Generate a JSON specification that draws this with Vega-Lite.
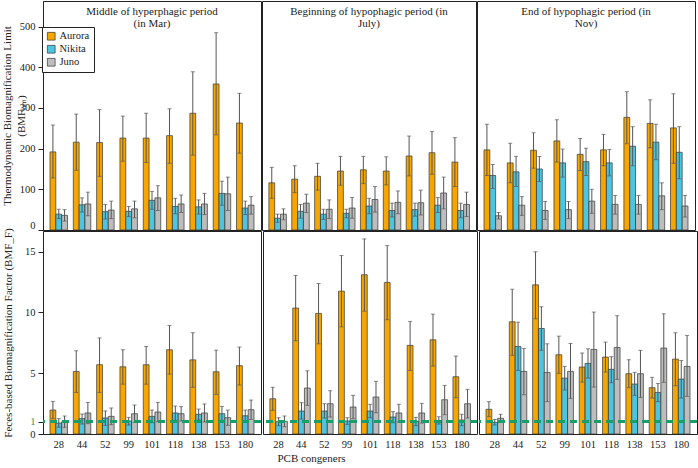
{
  "$schema": "https://vega.github.io/schema/vega-lite/v6.json",
  "padding": {"left": 0, "top": 0, "right": 0, "bottom": 0},
  "spacing": -11,
  "title": {"text": "PCB congeners", "orient": "bottom", "anchor": "middle", "dx": -38, "offset": 3, "font": "Liberation Serif", "fontSize": 11, "fontWeight": "normal", "color": "#222"},
  "config": {
    "view": {"stroke": "#222", "strokeWidth": 1},
    "font": "Liberation Serif",
    "title": {"font": "Liberation Serif", "fontSize": 11, "fontWeight": "normal", "color": "#222", "offset": -28, "anchor": "middle", "lineHeight": 12},
    "axis": {"labelFont": "Liberation Serif", "titleFont": "Liberation Serif", "labelFontSize": 10.5, "titleFontSize": 11, "titleFontWeight": "normal", "labelColor": "#222", "titleColor": "#222", "grid": false, "domainColor": "#222", "tickColor": "#222"}
  },
  "datasets": {
    "d": [
      {"m":"lim","p":"Mar","a":"Aurora","c":28,"v":192,"lo":128,"hi":258},
      {"m":"lim","p":"Mar","a":"Aurora","c":44,"v":216,"lo":147,"hi":285},
      {"m":"lim","p":"Mar","a":"Aurora","c":52,"v":215,"lo":132,"hi":296},
      {"m":"lim","p":"Mar","a":"Aurora","c":99,"v":226,"lo":169,"hi":280},
      {"m":"lim","p":"Mar","a":"Aurora","c":101,"v":226,"lo":166,"hi":287},
      {"m":"lim","p":"Mar","a":"Aurora","c":118,"v":232,"lo":164,"hi":298},
      {"m":"lim","p":"Mar","a":"Aurora","c":138,"v":287,"lo":184,"hi":389},
      {"m":"lim","p":"Mar","a":"Aurora","c":153,"v":359,"lo":234,"hi":485},
      {"m":"lim","p":"Mar","a":"Aurora","c":180,"v":263,"lo":189,"hi":336},
      {"m":"lim","p":"Mar","a":"Nikita","c":28,"v":39,"lo":28,"hi":51},
      {"m":"lim","p":"Mar","a":"Nikita","c":44,"v":62,"lo":44,"hi":79},
      {"m":"lim","p":"Mar","a":"Nikita","c":52,"v":45,"lo":27,"hi":63},
      {"m":"lim","p":"Mar","a":"Nikita","c":99,"v":46,"lo":33,"hi":58},
      {"m":"lim","p":"Mar","a":"Nikita","c":101,"v":73,"lo":51,"hi":95},
      {"m":"lim","p":"Mar","a":"Nikita","c":118,"v":58,"lo":40,"hi":78},
      {"m":"lim","p":"Mar","a":"Nikita","c":138,"v":57,"lo":39,"hi":74},
      {"m":"lim","p":"Mar","a":"Nikita","c":153,"v":90,"lo":61,"hi":120},
      {"m":"lim","p":"Mar","a":"Nikita","c":180,"v":54,"lo":38,"hi":71},
      {"m":"lim","p":"Mar","a":"Juno","c":28,"v":36,"lo":22,"hi":50},
      {"m":"lim","p":"Mar","a":"Juno","c":44,"v":64,"lo":35,"hi":93},
      {"m":"lim","p":"Mar","a":"Juno","c":52,"v":49,"lo":28,"hi":71},
      {"m":"lim","p":"Mar","a":"Juno","c":99,"v":52,"lo":30,"hi":71},
      {"m":"lim","p":"Mar","a":"Juno","c":101,"v":79,"lo":48,"hi":109},
      {"m":"lim","p":"Mar","a":"Juno","c":118,"v":64,"lo":43,"hi":86},
      {"m":"lim","p":"Mar","a":"Juno","c":138,"v":64,"lo":38,"hi":90},
      {"m":"lim","p":"Mar","a":"Juno","c":153,"v":89,"lo":48,"hi":130},
      {"m":"lim","p":"Mar","a":"Juno","c":180,"v":61,"lo":39,"hi":82},
      {"m":"lim","p":"Jul","a":"Aurora","c":28,"v":116,"lo":78,"hi":154},
      {"m":"lim","p":"Jul","a":"Aurora","c":44,"v":125,"lo":92,"hi":158},
      {"m":"lim","p":"Jul","a":"Aurora","c":52,"v":132,"lo":98,"hi":164},
      {"m":"lim","p":"Jul","a":"Aurora","c":99,"v":145,"lo":110,"hi":181},
      {"m":"lim","p":"Jul","a":"Aurora","c":101,"v":148,"lo":114,"hi":181},
      {"m":"lim","p":"Jul","a":"Aurora","c":118,"v":145,"lo":111,"hi":180},
      {"m":"lim","p":"Jul","a":"Aurora","c":138,"v":182,"lo":133,"hi":231},
      {"m":"lim","p":"Jul","a":"Aurora","c":153,"v":190,"lo":137,"hi":242},
      {"m":"lim","p":"Jul","a":"Aurora","c":180,"v":167,"lo":107,"hi":227},
      {"m":"lim","p":"Jul","a":"Nikita","c":28,"v":29,"lo":19,"hi":39},
      {"m":"lim","p":"Jul","a":"Nikita","c":44,"v":46,"lo":29,"hi":63},
      {"m":"lim","p":"Jul","a":"Nikita","c":52,"v":39,"lo":26,"hi":51},
      {"m":"lim","p":"Jul","a":"Nikita","c":99,"v":41,"lo":30,"hi":51},
      {"m":"lim","p":"Jul","a":"Nikita","c":101,"v":59,"lo":40,"hi":78},
      {"m":"lim","p":"Jul","a":"Nikita","c":118,"v":48,"lo":32,"hi":66},
      {"m":"lim","p":"Jul","a":"Nikita","c":138,"v":50,"lo":34,"hi":66},
      {"m":"lim","p":"Jul","a":"Nikita","c":153,"v":61,"lo":43,"hi":80},
      {"m":"lim","p":"Jul","a":"Nikita","c":180,"v":48,"lo":30,"hi":66},
      {"m":"lim","p":"Jul","a":"Juno","c":28,"v":39,"lo":25,"hi":52},
      {"m":"lim","p":"Jul","a":"Juno","c":44,"v":66,"lo":43,"hi":88},
      {"m":"lim","p":"Jul","a":"Juno","c":52,"v":51,"lo":28,"hi":74},
      {"m":"lim","p":"Jul","a":"Juno","c":99,"v":54,"lo":29,"hi":80},
      {"m":"lim","p":"Jul","a":"Juno","c":101,"v":75,"lo":44,"hi":107},
      {"m":"lim","p":"Jul","a":"Juno","c":118,"v":68,"lo":40,"hi":96},
      {"m":"lim","p":"Jul","a":"Juno","c":138,"v":67,"lo":37,"hi":98},
      {"m":"lim","p":"Jul","a":"Juno","c":153,"v":91,"lo":52,"hi":130},
      {"m":"lim","p":"Jul","a":"Juno","c":180,"v":63,"lo":33,"hi":93},
      {"m":"lim","p":"Nov","a":"Aurora","c":28,"v":197,"lo":134,"hi":260},
      {"m":"lim","p":"Nov","a":"Aurora","c":44,"v":165,"lo":116,"hi":213},
      {"m":"lim","p":"Nov","a":"Aurora","c":52,"v":196,"lo":152,"hi":239},
      {"m":"lim","p":"Nov","a":"Aurora","c":99,"v":219,"lo":167,"hi":271},
      {"m":"lim","p":"Nov","a":"Aurora","c":101,"v":186,"lo":146,"hi":225},
      {"m":"lim","p":"Nov","a":"Aurora","c":118,"v":197,"lo":158,"hi":235},
      {"m":"lim","p":"Nov","a":"Aurora","c":138,"v":277,"lo":212,"hi":340},
      {"m":"lim","p":"Nov","a":"Aurora","c":153,"v":262,"lo":202,"hi":320},
      {"m":"lim","p":"Nov","a":"Aurora","c":180,"v":251,"lo":164,"hi":335},
      {"m":"lim","p":"Nov","a":"Nikita","c":28,"v":134,"lo":102,"hi":161},
      {"m":"lim","p":"Nov","a":"Nikita","c":44,"v":143,"lo":107,"hi":181},
      {"m":"lim","p":"Nov","a":"Nikita","c":52,"v":150,"lo":119,"hi":181},
      {"m":"lim","p":"Nov","a":"Nikita","c":99,"v":165,"lo":130,"hi":199},
      {"m":"lim","p":"Nov","a":"Nikita","c":101,"v":168,"lo":134,"hi":201},
      {"m":"lim","p":"Nov","a":"Nikita","c":118,"v":165,"lo":133,"hi":198},
      {"m":"lim","p":"Nov","a":"Nikita","c":138,"v":206,"lo":158,"hi":254},
      {"m":"lim","p":"Nov","a":"Nikita","c":153,"v":216,"lo":173,"hi":260},
      {"m":"lim","p":"Nov","a":"Nikita","c":180,"v":191,"lo":126,"hi":254},
      {"m":"lim","p":"Nov","a":"Juno","c":28,"v":35,"lo":27,"hi":43},
      {"m":"lim","p":"Nov","a":"Juno","c":44,"v":61,"lo":36,"hi":82},
      {"m":"lim","p":"Nov","a":"Juno","c":52,"v":48,"lo":26,"hi":70},
      {"m":"lim","p":"Nov","a":"Juno","c":99,"v":50,"lo":28,"hi":70},
      {"m":"lim","p":"Nov","a":"Juno","c":101,"v":71,"lo":41,"hi":100},
      {"m":"lim","p":"Nov","a":"Juno","c":118,"v":63,"lo":39,"hi":85},
      {"m":"lim","p":"Nov","a":"Juno","c":138,"v":63,"lo":39,"hi":85},
      {"m":"lim","p":"Nov","a":"Juno","c":153,"v":84,"lo":50,"hi":116},
      {"m":"lim","p":"Nov","a":"Juno","c":180,"v":59,"lo":32,"hi":85},
      {"m":"F","p":"Mar","a":"Aurora","c":28,"v":1.97,"lo":1.26,"hi":2.68},
      {"m":"F","p":"Mar","a":"Aurora","c":44,"v":5.15,"lo":3.42,"hi":6.85},
      {"m":"F","p":"Mar","a":"Aurora","c":52,"v":5.7,"lo":3.42,"hi":7.9},
      {"m":"F","p":"Mar","a":"Aurora","c":99,"v":5.53,"lo":4.1,"hi":6.93},
      {"m":"F","p":"Mar","a":"Aurora","c":101,"v":5.7,"lo":4.1,"hi":7.2},
      {"m":"F","p":"Mar","a":"Aurora","c":118,"v":6.93,"lo":4.93,"hi":8.93},
      {"m":"F","p":"Mar","a":"Aurora","c":138,"v":6.1,"lo":3.84,"hi":8.33},
      {"m":"F","p":"Mar","a":"Aurora","c":153,"v":5.12,"lo":3.26,"hi":6.9},
      {"m":"F","p":"Mar","a":"Aurora","c":180,"v":5.62,"lo":4.03,"hi":7.15},
      {"m":"F","p":"Mar","a":"Nikita","c":28,"v":0.9,"lo":0.55,"hi":1.26},
      {"m":"F","p":"Mar","a":"Nikita","c":44,"v":1.26,"lo":0.82,"hi":1.64},
      {"m":"F","p":"Mar","a":"Nikita","c":52,"v":1.32,"lo":0.71,"hi":1.9},
      {"m":"F","p":"Mar","a":"Nikita","c":99,"v":1.07,"lo":0.74,"hi":1.37},
      {"m":"F","p":"Mar","a":"Nikita","c":101,"v":1.45,"lo":0.93,"hi":1.97},
      {"m":"F","p":"Mar","a":"Nikita","c":118,"v":1.73,"lo":1.12,"hi":2.3},
      {"m":"F","p":"Mar","a":"Nikita","c":138,"v":1.62,"lo":1.15,"hi":2.05},
      {"m":"F","p":"Mar","a":"Nikita","c":153,"v":1.67,"lo":1.07,"hi":2.27},
      {"m":"F","p":"Mar","a":"Nikita","c":180,"v":1.5,"lo":1.01,"hi":1.97},
      {"m":"F","p":"Mar","a":"Juno","c":28,"v":1.01,"lo":0.55,"hi":1.48},
      {"m":"F","p":"Mar","a":"Juno","c":44,"v":1.73,"lo":0.85,"hi":2.6},
      {"m":"F","p":"Mar","a":"Juno","c":52,"v":1.45,"lo":0.77,"hi":2.14},
      {"m":"F","p":"Mar","a":"Juno","c":99,"v":1.67,"lo":0.96,"hi":2.38},
      {"m":"F","p":"Mar","a":"Juno","c":101,"v":1.81,"lo":1.01,"hi":2.6},
      {"m":"F","p":"Mar","a":"Juno","c":118,"v":1.67,"lo":1.07,"hi":2.25},
      {"m":"F","p":"Mar","a":"Juno","c":138,"v":1.73,"lo":0.99,"hi":2.47},
      {"m":"F","p":"Mar","a":"Juno","c":153,"v":1.34,"lo":0.71,"hi":1.97},
      {"m":"F","p":"Mar","a":"Juno","c":180,"v":2.0,"lo":1.2,"hi":2.79},
      {"m":"F","p":"Jul","a":"Aurora","c":28,"v":2.9,"lo":1.95,"hi":3.84},
      {"m":"F","p":"Jul","a":"Aurora","c":44,"v":10.36,"lo":7.67,"hi":13.04},
      {"m":"F","p":"Jul","a":"Aurora","c":52,"v":9.92,"lo":7.42,"hi":12.38},
      {"m":"F","p":"Jul","a":"Aurora","c":99,"v":11.75,"lo":8.82,"hi":14.68},
      {"m":"F","p":"Jul","a":"Aurora","c":101,"v":13.1,"lo":10.1,"hi":16.05},
      {"m":"F","p":"Jul","a":"Aurora","c":118,"v":12.47,"lo":9.4,"hi":15.5},
      {"m":"F","p":"Jul","a":"Aurora","c":138,"v":7.29,"lo":5.23,"hi":9.26},
      {"m":"F","p":"Jul","a":"Aurora","c":153,"v":7.75,"lo":5.59,"hi":9.86},
      {"m":"F","p":"Jul","a":"Aurora","c":180,"v":4.71,"lo":2.99,"hi":6.41},
      {"m":"F","p":"Jul","a":"Nikita","c":28,"v":1.01,"lo":0.68,"hi":1.34},
      {"m":"F","p":"Jul","a":"Nikita","c":44,"v":1.89,"lo":1.23,"hi":2.58},
      {"m":"F","p":"Jul","a":"Nikita","c":52,"v":1.89,"lo":1.32,"hi":2.49},
      {"m":"F","p":"Jul","a":"Nikita","c":99,"v":1.07,"lo":0.79,"hi":1.34},
      {"m":"F","p":"Jul","a":"Nikita","c":101,"v":1.89,"lo":1.34,"hi":2.44},
      {"m":"F","p":"Jul","a":"Nikita","c":118,"v":1.4,"lo":0.93,"hi":1.84},
      {"m":"F","p":"Jul","a":"Nikita","c":138,"v":1.04,"lo":0.68,"hi":1.37},
      {"m":"F","p":"Jul","a":"Nikita","c":153,"v":1.12,"lo":0.82,"hi":1.42},
      {"m":"F","p":"Jul","a":"Nikita","c":180,"v":1.15,"lo":0.68,"hi":1.62},
      {"m":"F","p":"Jul","a":"Juno","c":28,"v":1.04,"lo":0.6,"hi":1.48},
      {"m":"F","p":"Jul","a":"Juno","c":44,"v":3.78,"lo":2.36,"hi":5.2},
      {"m":"F","p":"Jul","a":"Juno","c":52,"v":2.49,"lo":1.4,"hi":3.56},
      {"m":"F","p":"Jul","a":"Juno","c":99,"v":2.22,"lo":1.26,"hi":3.18},
      {"m":"F","p":"Jul","a":"Juno","c":101,"v":3.04,"lo":1.75,"hi":4.33},
      {"m":"F","p":"Jul","a":"Juno","c":118,"v":1.73,"lo":0.99,"hi":2.44},
      {"m":"F","p":"Jul","a":"Juno","c":138,"v":1.73,"lo":0.9,"hi":2.52},
      {"m":"F","p":"Jul","a":"Juno","c":153,"v":2.82,"lo":1.59,"hi":4.0},
      {"m":"F","p":"Jul","a":"Juno","c":180,"v":2.49,"lo":1.32,"hi":3.67},
      {"m":"F","p":"Nov","a":"Aurora","c":28,"v":2.03,"lo":1.42,"hi":2.66},
      {"m":"F","p":"Nov","a":"Aurora","c":44,"v":9.23,"lo":6.47,"hi":11.9},
      {"m":"F","p":"Nov","a":"Aurora","c":52,"v":12.27,"lo":9.48,"hi":14.99},
      {"m":"F","p":"Nov","a":"Aurora","c":99,"v":6.52,"lo":4.99,"hi":8.05},
      {"m":"F","p":"Nov","a":"Aurora","c":101,"v":5.51,"lo":4.27,"hi":6.66},
      {"m":"F","p":"Nov","a":"Aurora","c":118,"v":6.33,"lo":5.1,"hi":7.56},
      {"m":"F","p":"Nov","a":"Aurora","c":138,"v":4.96,"lo":3.81,"hi":6.11},
      {"m":"F","p":"Nov","a":"Aurora","c":153,"v":3.81,"lo":2.96,"hi":4.66},
      {"m":"F","p":"Nov","a":"Aurora","c":180,"v":6.16,"lo":3.97,"hi":8.33},
      {"m":"F","p":"Nov","a":"Nikita","c":28,"v":0.96,"lo":0.74,"hi":1.2},
      {"m":"F","p":"Nov","a":"Nikita","c":44,"v":7.2,"lo":5.23,"hi":9.2},
      {"m":"F","p":"Nov","a":"Nikita","c":52,"v":8.68,"lo":6.9,"hi":10.47},
      {"m":"F","p":"Nov","a":"Nikita","c":99,"v":4.6,"lo":3.62,"hi":5.56},
      {"m":"F","p":"Nov","a":"Nikita","c":101,"v":5.81,"lo":4.6,"hi":7.01},
      {"m":"F","p":"Nov","a":"Nikita","c":118,"v":5.32,"lo":4.22,"hi":6.36},
      {"m":"F","p":"Nov","a":"Nikita","c":138,"v":4.11,"lo":3.18,"hi":5.07},
      {"m":"F","p":"Nov","a":"Nikita","c":153,"v":3.42,"lo":2.66,"hi":4.16},
      {"m":"F","p":"Nov","a":"Nikita","c":180,"v":4.52,"lo":2.96,"hi":6.05},
      {"m":"F","p":"Nov","a":"Juno","c":28,"v":1.29,"lo":0.96,"hi":1.62},
      {"m":"F","p":"Nov","a":"Juno","c":44,"v":5.15,"lo":3.23,"hi":7.04},
      {"m":"F","p":"Nov","a":"Juno","c":52,"v":5.07,"lo":2.66,"hi":7.42},
      {"m":"F","p":"Nov","a":"Juno","c":99,"v":5.15,"lo":2.93,"hi":7.45},
      {"m":"F","p":"Nov","a":"Juno","c":101,"v":6.96,"lo":3.86,"hi":10.03},
      {"m":"F","p":"Nov","a":"Juno","c":118,"v":7.12,"lo":4.49,"hi":9.73},
      {"m":"F","p":"Nov","a":"Juno","c":138,"v":4.96,"lo":3.01,"hi":6.88},
      {"m":"F","p":"Nov","a":"Juno","c":153,"v":7.07,"lo":4.25,"hi":9.89},
      {"m":"F","p":"Nov","a":"Juno","c":180,"v":5.56,"lo":3.1,"hi":8.11}
    ]
  },
  "data": {"name": "d"},
  "vconcat": [
    {
      "spacing": -3,
      "hconcat": [
        {
          "width": 218, "height": 229,
          "title": {"text": ["Middle of hyperphagic period", "(in Mar)"]},
          "transform": [{"filter": "datum.m == 'lim' && datum.p == 'Mar'"}],
          "layer": [
            {"mark": {"type": "bar", "stroke": "#333", "strokeWidth": 0.7},
             "encoding": {
               "x": {"field": "c", "type": "ordinal", "scale": {"paddingInner": 0.25, "paddingOuter": 0.3}, "axis": null},
               "xOffset": {"field": "a", "type": "nominal", "sort": ["Aurora", "Nikita", "Juno"]},
               "y": {"field": "v", "type": "quantitative", "scale": {"domain": [0, 563], "nice": false},
                 "axis": {"values": [0, 100, 200, 300, 400, 500], "title": ["Thermodynamic Biomagnification Limit", "(BMFₗᵢₘ)"], "titleX": -42, "titleBaseline": "top", "titleLineHeight": 14, "tickSize": 5, "labelPadding": 3, "labelFlush": true, "labelFlushOffset": 0}},
               "color": {"field": "a", "type": "nominal", "sort": ["Aurora", "Nikita", "Juno"],
                 "scale": {"domain": ["Aurora", "Nikita", "Juno"], "range": ["#F7A600", "#4EC4DF", "#BDBDBD"]},
                 "legend": {"title": null, "orient": "none", "legendX": -1, "legendY": 26, "strokeColor": "#222", "fillColor": "white", "padding": 4, "symbolType": "square", "symbolSize": 60, "symbolStrokeColor": "#333", "symbolStrokeWidth": 0.7, "labelFont": "Liberation Serif", "labelFontSize": 10.5, "labelColor": "#222", "rowPadding": 1, "labelOffset": 3}}}},
            {"mark": {"type": "rule", "color": "#555", "strokeWidth": 1},
             "encoding": {"x": {"field": "c", "type": "ordinal", "axis": null}, "xOffset": {"field": "a", "type": "nominal", "sort": ["Aurora", "Nikita", "Juno"]},
               "y": {"field": "lo", "type": "quantitative", "axis": {"values": [0, 100, 200, 300, 400, 500], "title": ["Thermodynamic Biomagnification Limit", "(BMFₗᵢₘ)"], "titleX": -42, "titleBaseline": "top", "titleLineHeight": 14, "tickSize": 5, "labelPadding": 3, "labelFlush": true, "labelFlushOffset": 0}}, "y2": {"field": "hi"}}},
            {"mark": {"type": "tick", "color": "#555", "thickness": 1, "size": 4, "orient": "horizontal"},
             "encoding": {"x": {"field": "c", "type": "ordinal", "axis": null}, "xOffset": {"field": "a", "type": "nominal", "sort": ["Aurora", "Nikita", "Juno"]},
               "y": {"field": "hi", "type": "quantitative", "axis": {"values": [0, 100, 200, 300, 400, 500], "title": ["Thermodynamic Biomagnification Limit", "(BMFₗᵢₘ)"], "titleX": -42, "titleBaseline": "top", "titleLineHeight": 14, "tickSize": 5, "labelPadding": 3, "labelFlush": true, "labelFlushOffset": 0}}}},
            {"mark": {"type": "tick", "color": "#555", "thickness": 1, "size": 4, "orient": "horizontal"},
             "encoding": {"x": {"field": "c", "type": "ordinal", "axis": null}, "xOffset": {"field": "a", "type": "nominal", "sort": ["Aurora", "Nikita", "Juno"]},
               "y": {"field": "lo", "type": "quantitative", "axis": {"values": [0, 100, 200, 300, 400, 500], "title": ["Thermodynamic Biomagnification Limit", "(BMFₗᵢₘ)"], "titleX": -42, "titleBaseline": "top", "titleLineHeight": 14, "tickSize": 5, "labelPadding": 3, "labelFlush": true, "labelFlushOffset": 0}}}}
          ]
        },
        {
          "width": 214, "height": 229,
          "title": {"text": ["Beginning of hypophagic period (in", "July)"]},
          "transform": [{"filter": "datum.m == 'lim' && datum.p == 'Jul'"}],
          "layer": [
            {"mark": {"type": "bar", "stroke": "#333", "strokeWidth": 0.7},
             "encoding": {
               "x": {"field": "c", "type": "ordinal", "scale": {"paddingInner": 0.25, "paddingOuter": 0.3}, "axis": null},
               "xOffset": {"field": "a", "type": "nominal", "sort": ["Aurora", "Nikita", "Juno"]},
               "y": {"field": "v", "type": "quantitative", "scale": {"domain": [0, 563], "nice": false}, "axis": null},
               "color": {"field": "a", "type": "nominal", "sort": ["Aurora", "Nikita", "Juno"], "scale": {"domain": ["Aurora", "Nikita", "Juno"], "range": ["#F7A600", "#4EC4DF", "#BDBDBD"]}}}},
            {"mark": {"type": "rule", "color": "#555", "strokeWidth": 1},
             "encoding": {"x": {"field": "c", "type": "ordinal", "axis": null}, "xOffset": {"field": "a", "type": "nominal", "sort": ["Aurora", "Nikita", "Juno"]}, "y": {"field": "lo", "type": "quantitative", "axis": null}, "y2": {"field": "hi"}}},
            {"mark": {"type": "tick", "color": "#555", "thickness": 1, "size": 4, "orient": "horizontal"},
             "encoding": {"x": {"field": "c", "type": "ordinal", "axis": null}, "xOffset": {"field": "a", "type": "nominal", "sort": ["Aurora", "Nikita", "Juno"]}, "y": {"field": "hi", "type": "quantitative", "axis": null}}},
            {"mark": {"type": "tick", "color": "#555", "thickness": 1, "size": 4, "orient": "horizontal"},
             "encoding": {"x": {"field": "c", "type": "ordinal", "axis": null}, "xOffset": {"field": "a", "type": "nominal", "sort": ["Aurora", "Nikita", "Juno"]}, "y": {"field": "lo", "type": "quantitative", "axis": null}}}
          ]
        },
        {
          "width": 218, "height": 229,
          "title": {"text": ["End of hypophagic period (in", "Nov)"]},
          "transform": [{"filter": "datum.m == 'lim' && datum.p == 'Nov'"}],
          "layer": [
            {"mark": {"type": "bar", "stroke": "#333", "strokeWidth": 0.7},
             "encoding": {
               "x": {"field": "c", "type": "ordinal", "scale": {"paddingInner": 0.25, "paddingOuter": 0.3}, "axis": null},
               "xOffset": {"field": "a", "type": "nominal", "sort": ["Aurora", "Nikita", "Juno"]},
               "y": {"field": "v", "type": "quantitative", "scale": {"domain": [0, 563], "nice": false}, "axis": null},
               "color": {"field": "a", "type": "nominal", "sort": ["Aurora", "Nikita", "Juno"], "scale": {"domain": ["Aurora", "Nikita", "Juno"], "range": ["#F7A600", "#4EC4DF", "#BDBDBD"]}}}},
            {"mark": {"type": "rule", "color": "#555", "strokeWidth": 1},
             "encoding": {"x": {"field": "c", "type": "ordinal", "axis": null}, "xOffset": {"field": "a", "type": "nominal", "sort": ["Aurora", "Nikita", "Juno"]}, "y": {"field": "lo", "type": "quantitative", "axis": null}, "y2": {"field": "hi"}}},
            {"mark": {"type": "tick", "color": "#555", "thickness": 1, "size": 4, "orient": "horizontal"},
             "encoding": {"x": {"field": "c", "type": "ordinal", "axis": null}, "xOffset": {"field": "a", "type": "nominal", "sort": ["Aurora", "Nikita", "Juno"]}, "y": {"field": "hi", "type": "quantitative", "axis": null}}},
            {"mark": {"type": "tick", "color": "#555", "thickness": 1, "size": 4, "orient": "horizontal"},
             "encoding": {"x": {"field": "c", "type": "ordinal", "axis": null}, "xOffset": {"field": "a", "type": "nominal", "sort": ["Aurora", "Nikita", "Juno"]}, "y": {"field": "lo", "type": "quantitative", "axis": null}}}
          ]
        }
      ]
    },
    {
      "spacing": -3,
      "hconcat": [
        {
          "width": 218, "height": 203,
          "transform": [{"filter": "datum.m == 'F' && datum.p == 'Mar'"}],
          "layer": [
            {"mark": {"type": "bar", "stroke": "#333", "strokeWidth": 0.7},
             "encoding": {
               "x": {"field": "c", "type": "ordinal", "scale": {"paddingInner": 0.25, "paddingOuter": 0.3}, "axis": {"title": null, "ticks": false, "domain": false, "labelAngle": 0, "labelPadding": 5}},
               "xOffset": {"field": "a", "type": "nominal", "sort": ["Aurora", "Nikita", "Juno"]},
               "y": {"field": "v", "type": "quantitative", "scale": {"domain": [0, 16.7], "nice": false},
                 "axis": {"values": [0, 1, 5, 10, 15], "title": "Feces-based Biomagnification Factor (BMF_F)", "titleX": -41, "titleBaseline": "top", "tickSize": 5, "labelPadding": 3, "labelColor": {"condition": {"test": "datum.value == 1", "value": "#1a9e6a"}, "value": "#222"}}},
               "color": {"field": "a", "type": "nominal", "sort": ["Aurora", "Nikita", "Juno"], "scale": {"domain": ["Aurora", "Nikita", "Juno"], "range": ["#F7A600", "#4EC4DF", "#BDBDBD"]}}}},
            {"mark": {"type": "rule", "color": "#555", "strokeWidth": 1},
             "encoding": {"x": {"field": "c", "type": "ordinal", "axis": {"title": null, "ticks": false, "domain": false, "labelAngle": 0, "labelPadding": 5}}, "xOffset": {"field": "a", "type": "nominal", "sort": ["Aurora", "Nikita", "Juno"]},
               "y": {"field": "lo", "type": "quantitative", "axis": {"values": [0, 1, 5, 10, 15], "title": "Feces-based Biomagnification Factor (BMF_F)", "titleX": -41, "titleBaseline": "top", "tickSize": 5, "labelPadding": 3, "labelColor": {"condition": {"test": "datum.value == 1", "value": "#1a9e6a"}, "value": "#222"}}}, "y2": {"field": "hi"}}},
            {"mark": {"type": "tick", "color": "#555", "thickness": 1, "size": 4, "orient": "horizontal"},
             "encoding": {"x": {"field": "c", "type": "ordinal", "axis": {"title": null, "ticks": false, "domain": false, "labelAngle": 0, "labelPadding": 5}}, "xOffset": {"field": "a", "type": "nominal", "sort": ["Aurora", "Nikita", "Juno"]},
               "y": {"field": "hi", "type": "quantitative", "axis": {"values": [0, 1, 5, 10, 15], "title": "Feces-based Biomagnification Factor (BMF_F)", "titleX": -41, "titleBaseline": "top", "tickSize": 5, "labelPadding": 3, "labelColor": {"condition": {"test": "datum.value == 1", "value": "#1a9e6a"}, "value": "#222"}}}}},
            {"mark": {"type": "tick", "color": "#555", "thickness": 1, "size": 4, "orient": "horizontal"},
             "encoding": {"x": {"field": "c", "type": "ordinal", "axis": {"title": null, "ticks": false, "domain": false, "labelAngle": 0, "labelPadding": 5}}, "xOffset": {"field": "a", "type": "nominal", "sort": ["Aurora", "Nikita", "Juno"]},
               "y": {"field": "lo", "type": "quantitative", "axis": {"values": [0, 1, 5, 10, 15], "title": "Feces-based Biomagnification Factor (BMF_F)", "titleX": -41, "titleBaseline": "top", "tickSize": 5, "labelPadding": 3, "labelColor": {"condition": {"test": "datum.value == 1", "value": "#1a9e6a"}, "value": "#222"}}}}},
            {"mark": {"type": "rule", "color": "#1a9e6a", "strokeWidth": 2, "strokeDash": [7, 5]},
             "encoding": {"y": {"datum": 1, "type": "quantitative", "axis": {"values": [0, 1, 5, 10, 15], "title": "Feces-based Biomagnification Factor (BMF_F)", "titleX": -41, "titleBaseline": "top", "tickSize": 5, "labelPadding": 3, "labelColor": {"condition": {"test": "datum.value == 1", "value": "#1a9e6a"}, "value": "#222"}}}}}
          ]
        },
        {
          "width": 214, "height": 203,
          "transform": [{"filter": "datum.m == 'F' && datum.p == 'Jul'"}],
          "layer": [
            {"mark": {"type": "bar", "stroke": "#333", "strokeWidth": 0.7},
             "encoding": {
               "x": {"field": "c", "type": "ordinal", "scale": {"paddingInner": 0.25, "paddingOuter": 0.3}, "axis": {"title": null, "ticks": false, "domain": false, "labelAngle": 0, "labelPadding": 5}},
               "xOffset": {"field": "a", "type": "nominal", "sort": ["Aurora", "Nikita", "Juno"]},
               "y": {"field": "v", "type": "quantitative", "scale": {"domain": [0, 16.7], "nice": false}, "axis": null},
               "color": {"field": "a", "type": "nominal", "sort": ["Aurora", "Nikita", "Juno"], "scale": {"domain": ["Aurora", "Nikita", "Juno"], "range": ["#F7A600", "#4EC4DF", "#BDBDBD"]}}}},
            {"mark": {"type": "rule", "color": "#555", "strokeWidth": 1},
             "encoding": {"x": {"field": "c", "type": "ordinal", "axis": {"title": null, "ticks": false, "domain": false, "labelAngle": 0, "labelPadding": 5}}, "xOffset": {"field": "a", "type": "nominal", "sort": ["Aurora", "Nikita", "Juno"]}, "y": {"field": "lo", "type": "quantitative", "axis": null}, "y2": {"field": "hi"}}},
            {"mark": {"type": "tick", "color": "#555", "thickness": 1, "size": 4, "orient": "horizontal"},
             "encoding": {"x": {"field": "c", "type": "ordinal", "axis": {"title": null, "ticks": false, "domain": false, "labelAngle": 0, "labelPadding": 5}}, "xOffset": {"field": "a", "type": "nominal", "sort": ["Aurora", "Nikita", "Juno"]}, "y": {"field": "hi", "type": "quantitative", "axis": null}}},
            {"mark": {"type": "tick", "color": "#555", "thickness": 1, "size": 4, "orient": "horizontal"},
             "encoding": {"x": {"field": "c", "type": "ordinal", "axis": {"title": null, "ticks": false, "domain": false, "labelAngle": 0, "labelPadding": 5}}, "xOffset": {"field": "a", "type": "nominal", "sort": ["Aurora", "Nikita", "Juno"]}, "y": {"field": "lo", "type": "quantitative", "axis": null}}},
            {"mark": {"type": "rule", "color": "#1a9e6a", "strokeWidth": 2, "strokeDash": [7, 5]},
             "encoding": {"y": {"datum": 1, "type": "quantitative", "axis": null}}}
          ]
        },
        {
          "width": 218, "height": 203,
          "transform": [{"filter": "datum.m == 'F' && datum.p == 'Nov'"}],
          "layer": [
            {"mark": {"type": "bar", "stroke": "#333", "strokeWidth": 0.7},
             "encoding": {
               "x": {"field": "c", "type": "ordinal", "scale": {"paddingInner": 0.25, "paddingOuter": 0.3}, "axis": {"title": null, "ticks": false, "domain": false, "labelAngle": 0, "labelPadding": 5}},
               "xOffset": {"field": "a", "type": "nominal", "sort": ["Aurora", "Nikita", "Juno"]},
               "y": {"field": "v", "type": "quantitative", "scale": {"domain": [0, 16.7], "nice": false}, "axis": null},
               "color": {"field": "a", "type": "nominal", "sort": ["Aurora", "Nikita", "Juno"], "scale": {"domain": ["Aurora", "Nikita", "Juno"], "range": ["#F7A600", "#4EC4DF", "#BDBDBD"]}}}},
            {"mark": {"type": "rule", "color": "#555", "strokeWidth": 1},
             "encoding": {"x": {"field": "c", "type": "ordinal", "axis": {"title": null, "ticks": false, "domain": false, "labelAngle": 0, "labelPadding": 5}}, "xOffset": {"field": "a", "type": "nominal", "sort": ["Aurora", "Nikita", "Juno"]}, "y": {"field": "lo", "type": "quantitative", "axis": null}, "y2": {"field": "hi"}}},
            {"mark": {"type": "tick", "color": "#555", "thickness": 1, "size": 4, "orient": "horizontal"},
             "encoding": {"x": {"field": "c", "type": "ordinal", "axis": {"title": null, "ticks": false, "domain": false, "labelAngle": 0, "labelPadding": 5}}, "xOffset": {"field": "a", "type": "nominal", "sort": ["Aurora", "Nikita", "Juno"]}, "y": {"field": "hi", "type": "quantitative", "axis": null}}},
            {"mark": {"type": "tick", "color": "#555", "thickness": 1, "size": 4, "orient": "horizontal"},
             "encoding": {"x": {"field": "c", "type": "ordinal", "axis": {"title": null, "ticks": false, "domain": false, "labelAngle": 0, "labelPadding": 5}}, "xOffset": {"field": "a", "type": "nominal", "sort": ["Aurora", "Nikita", "Juno"]}, "y": {"field": "lo", "type": "quantitative", "axis": null}}},
            {"mark": {"type": "rule", "color": "#1a9e6a", "strokeWidth": 2, "strokeDash": [7, 5]},
             "encoding": {"y": {"datum": 1, "type": "quantitative", "axis": null}}}
          ]
        }
      ]
    }
  ]
}
